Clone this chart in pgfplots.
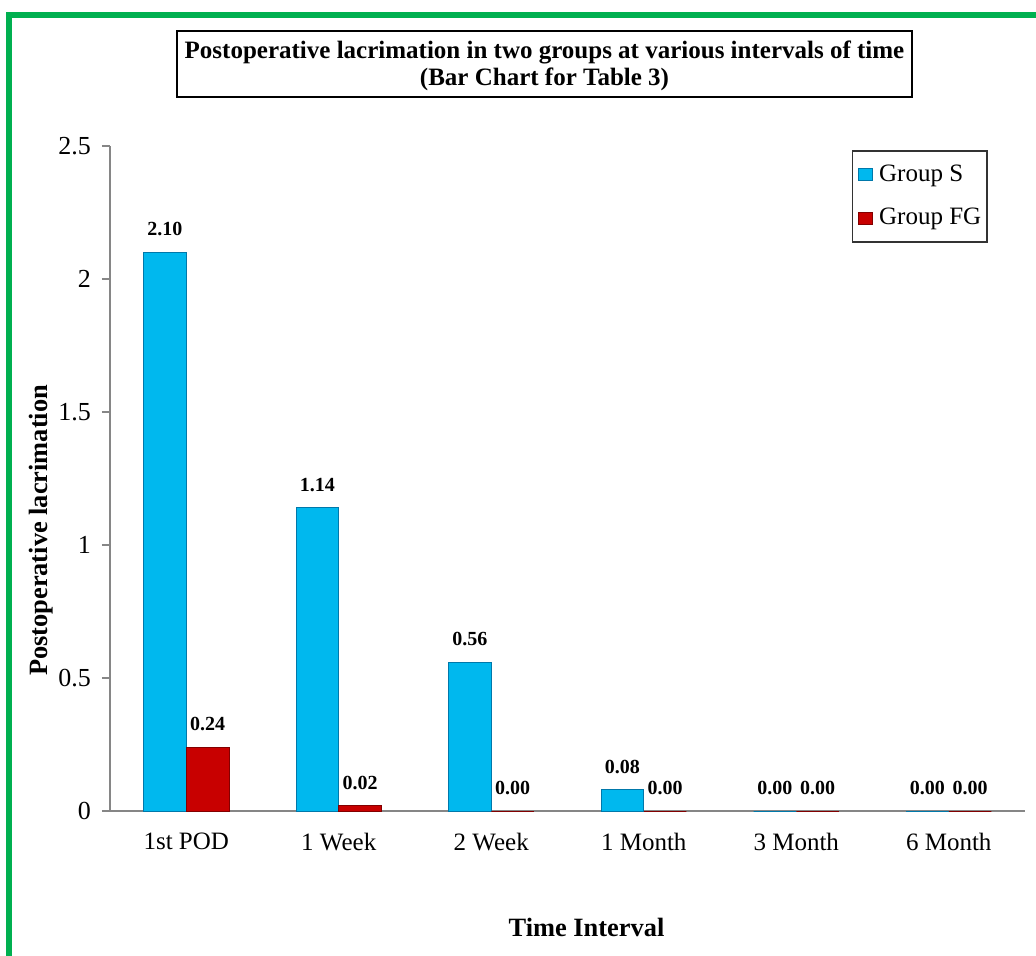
\documentclass[border=0pt]{standalone}
\usepackage{fontspec}
\setmainfont{Liberation Serif}
\usepackage{pgfplots}
\pgfplotsset{compat=1.18}

\definecolor{frameGreen}{RGB}{0,176,80}
\definecolor{barS}{RGB}{0,184,238}
\definecolor{barSedge}{RGB}{0,120,170}
\definecolor{barFG}{RGB}{200,0,0}
\definecolor{barFGedge}{RGB}{130,0,0}
\definecolor{axisGray}{RGB}{134,134,134}

% mean postoperative lacrimation score per interval
\pgfplotstableread{
idx  groupS  groupFG
0    2.10    0.24
1    1.14    0.02
2    0.56    0.00
3    0.08    0.00
4    0.00    0.00
5    0.00    0.00
}\lacrimation

\begin{document}
\begin{tikzpicture}[x=1pt,y=1pt]
  \path[use as bounding box] (0,0) rectangle (518,477.5);
  \fill[white] (0,0) rectangle (518,477.5);
  % page frame
  \draw[frameGreen, line width=3pt, line join=miter] (4.5,-2) -- (4.5,470) -- (520,470);
  % title box
  \draw[black, line width=0.7pt] (88.5,429) rectangle (456,462);
  \node[inner sep=0pt, align=center,
        font=\bfseries\fontsize{12.5}{13.2}\selectfont]
        at (272.25,444.5)
        {Postoperative lacrimation in two groups at various intervals of time\\(Bar Chart for Table 3)};

  \begin{axis}[
    anchor=south west, at={(55pt,72pt)},
    scale only axis, width=457.5pt, height=332.5pt,
    /pgf/number format/assume math mode=true,
    ybar=0pt, bar width=0.28,
    xmin=-0.5, xmax=5.5,
    ymin=0, ymax=2.5,
    axis x line*=bottom, axis y line*=left,
    axis line style={axisGray, line width=0.8pt},
    xtick=data,
    xticklabels={1st POD, 1 Week, 2 Week, 1 Month, 3 Month, 6 Month},
    x tick style={draw=none},
    ytick={0,0.5,1,1.5,2,2.5},
    yticklabels={0,0.5,1,1.5,2,2.5},
    y tick style={axisGray, line width=0.8pt},
    tick align=outside, major tick length=4pt,
    yticklabel style={font=\fontsize{13}{15}\selectfont, xshift=-2pt},
    xticklabel style={font=\fontsize{12.5}{15}\selectfont, yshift=-3.5pt},
    xlabel={Time Interval},
    ylabel={Postoperative lacrimation},
    ylabel style={at={(axis description cs:-0.0754,0.422)}, anchor=center,
        font=\bfseries\fontsize{13.2}{15}\selectfont},
    xlabel style={at={(axis description cs:0.5208,-0.1744)}, anchor=center,
        font=\bfseries\fontsize{13.2}{15}\selectfont},
    nodes near coords,
    every node near coord/.append style={font=\bfseries\fontsize{10}{12}\selectfont,
        anchor=south, inner sep=0pt, yshift=8pt},
    /pgf/number format/.cd, fixed, zerofill, precision=2, /pgfplots/.cd,
    legend style={at={(0.9596,0.994)}, anchor=north east,
        draw=black!80, line width=0.8pt,
        font=\fontsize{12.5}{14}\selectfont,
        inner xsep=1.5pt, inner ysep=5pt, row sep=8pt,
        nodes={inner xsep=1.5pt},
        cells={anchor=west}},
    legend image code/.code={\fill[#1] (1.5pt,-3pt) rectangle (8.5pt,3pt);
        \path (0pt,0pt) (10pt,0pt);},
  ]
    \addplot[fill=barS, draw=barSedge, line width=0.4pt] table[x=idx, y=groupS] {\lacrimation};
    \addplot[fill=barFG, draw=barFGedge, line width=0.4pt] table[x=idx, y=groupFG] {\lacrimation};
    \legend{Group S, Group FG}
  \end{axis}
\end{tikzpicture}
\end{document}
